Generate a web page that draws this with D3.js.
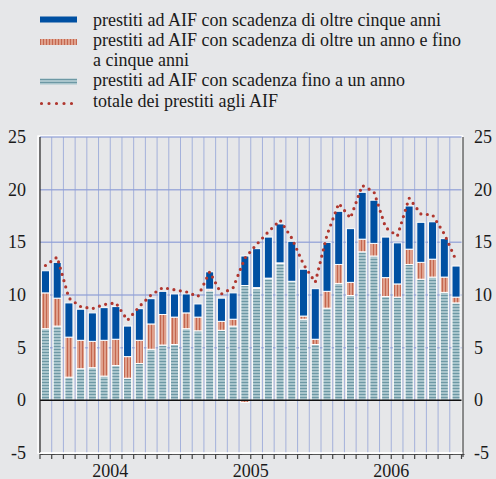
<!DOCTYPE html>
<html>
<head>
<meta charset="utf-8">
<script src="https://cdn.jsdelivr.net/npm/d3@7"></script>
<style>
  body { margin: 0; background: #e6e7e9; }
  svg { display: block; }
  text { font-family: "Liberation Serif", "Times New Roman", serif; fill: #1a1a1a; }
</style>
</head>
<body>
<script>
// monthly data, Jan 2004 - Dec 2006
let years = ["2004", "2005", "2006"];
let shortTerm = [6.8, 7.05, 2.2, 3.0, 3.1, 2.3, 3.3, 2.1, 3.5, 4.85, 5.25, 5.3,
                 6.8, 6.6, 10.4, 6.65, 7.05, 10.9, 10.6, 11.55, 13.0, 11.3, 7.7, 5.3,
                 8.75, 11.1, 9.95, 14.1, 13.7, 9.85, 9.8, 12.9, 11.5, 11.7, 10.25, 9.25];
let midTerm = [3.4, 2.65, 3.8, 2.7, 2.5, 3.4, 2.5, 2.05, 2.2, 2.4, 2.9, 2.6,
               1.5, 1.3, 0.15, 0.85, 0.65, -0.2, 0.1, 0.05, 0.05, -0.05, 0.3, 0.5,
               1.6, 1.8, 1.25, 1.2, 1.2, 1.8, 1.25, 1.45, 1.6, 1.7, 1.45, 0.55];
let longTerm = [2.1, 3.4, 3.25, 2.95, 2.7, 3.1, 3.1, 2.9, 3.0, 2.4, 2.2, 2.2,
                1.8, 1.25, 1.65, 2.2, 2.5, 2.8, 3.7, 3.9, 3.7, 3.8, 4.45, 4.8,
                4.65, 5.05, 5.1, 4.45, 4.1, 3.85, 3.9, 4.1, 3.8, 3.55, 3.65, 2.95];
let total = [12.8, 13.6, 9.7, 8.9, 8.7, 9.1, 9.25, 7.6, 8.9, 10.0, 10.7, 10.5,
             10.3, 9.85, 12.2, 10.1, 10.7, 13.5, 14.8, 16.0, 17.1, 15.4, 12.9, 11.2,
             15.7, 18.7, 17.3, 20.4, 19.8, 16.4, 15.6, 19.2, 17.7, 17.6, 15.8, 13.3];
let yTicks = [-5, 0, 5, 10, 15, 20, 25];
let legendLabels = [
  ["prestiti ad AIF con scadenza di oltre cinque anni"],
  ["prestiti ad AIF con scadenza di oltre un anno e fino", "a cinque anni"],
  ["prestiti ad AIF con scadenza fino a un anno"],
  ["totale dei prestiti agli AIF"]
];

let width = 496;
let height = 479;
let plotLeft = 40, plotRight = 461.5, plotTop = 137, plotBottom = 453;
let fontSize = 18;

let svg = d3.select("body").append("svg")
            .attr("width", width)
            .attr("height", height);

let defs = svg.append("defs");
let redPat = defs.append("pattern").attr("id", "redStripe")
  .attr("patternUnits", "userSpaceOnUse").attr("width", 3).attr("height", 3);
redPat.append("rect").attr("width", 3).attr("height", 3).attr("fill", "#dfa08c");
redPat.append("rect").attr("x", 1).attr("width", 1).attr("height", 3).attr("fill", "#c4674f");

let tealPat = defs.append("pattern").attr("id", "tealStripe")
  .attr("patternUnits", "userSpaceOnUse").attr("width", 3).attr("height", 3);
tealPat.append("rect").attr("width", 3).attr("height", 3).attr("fill", "#a9c5cc");
tealPat.append("rect").attr("y", 1).attr("width", 3).attr("height", 1).attr("fill", "#6d98a4");

let months = d3.range(shortTerm.length);
let x = d3.scaleBand().domain(months).range([plotLeft, plotRight]).paddingInner(0.31).paddingOuter(0.12);
let xStep = (plotRight - plotLeft) / months.length;
let y = d3.scaleLinear().domain([-5, 25]).range([plotBottom, plotTop]);

// frame
svg.append("rect").attr("x", plotLeft - 2).attr("y", plotTop - 1)
   .attr("width", plotRight - plotLeft + 3).attr("height", plotBottom - plotTop + 1)
   .attr("fill", "none").attr("stroke", "#ffffff").attr("stroke-width", 1.5);

// grid
svg.append("g").selectAll("line").data(d3.range(1, months.length)).join("line")
   .attr("x1", d => plotLeft + d * xStep).attr("x2", d => plotLeft + d * xStep)
   .attr("y1", plotTop).attr("y2", plotBottom)
   .attr("stroke", "#8e9fd6").attr("stroke-opacity", 0.75).attr("stroke-width", 1);
svg.append("g").selectAll("line").data(yTicks.filter(d => d > 0)).join("line")
   .attr("x1", plotLeft).attr("x2", plotRight)
   .attr("y1", d => y(d)).attr("y2", d => y(d))
   .attr("stroke", "#8e9fd6").attr("stroke-opacity", 0.8).attr("stroke-width", 1.5);

// stacked bars
let table = months.map(i => ({ short: shortTerm[i], mid: midTerm[i], long: longTerm[i] }));
let stack = d3.stack().keys(["short", "mid", "long"]).offset(d3.stackOffsetDiverging);
let fills = { short: "url(#tealStripe)", mid: "url(#redStripe)", long: "#0050a2" };

svg.append("g").selectAll("g").data(stack(table)).join("g")
   .attr("fill", d => fills[d.key])
   .selectAll("rect").data(d => d).join("rect")
   .attr("x", (d, i) => x(i))
   .attr("width", x.bandwidth())
   .attr("y", d => y(Math.max(d[0], d[1])))
   .attr("height", d => Math.abs(y(d[0]) - y(d[1])))
   .attr("stroke", "#ffffff").attr("stroke-width", 1);

// zero line
svg.append("line").attr("x1", plotLeft).attr("x2", plotRight)
   .attr("y1", y(0)).attr("y2", y(0))
   .attr("stroke", "#111").attr("stroke-width", 1.5);

// left and right borders
svg.append("line").attr("x1", plotLeft).attr("x2", plotLeft)
   .attr("y1", plotTop).attr("y2", plotBottom).attr("stroke", "#222").attr("stroke-width", 1.2);
svg.append("line").attr("x1", plotRight + 1.5).attr("x2", plotRight + 1.5)
   .attr("y1", plotTop).attr("y2", plotBottom + 4).attr("stroke", "#666").attr("stroke-width", 1.5);

// bottom axis with month ticks
let axisG = svg.append("g");
axisG.append("line").attr("x1", plotLeft).attr("x2", plotRight + 1)
     .attr("y1", plotBottom + 1.5).attr("y2", plotBottom + 1.5)
     .attr("stroke", "#555").attr("stroke-width", 1);
axisG.append("line").attr("x1", plotLeft).attr("x2", plotRight + 1)
     .attr("y1", plotBottom).attr("y2", plotBottom)
     .attr("stroke", "#ffffff").attr("stroke-width", 1.5);
axisG.selectAll("path.tick").data(d3.range(0, months.length + 1)).join("path")
     .attr("class", "tick")
     .attr("d", d => {
        let tx = plotLeft + d * xStep;
        return "M" + tx + "," + (plotBottom + 6) + "V" + (plotBottom + 1.5) + "h3";
     })
     .attr("fill", "none").attr("stroke", "#444").attr("stroke-width", 1.2);

axisG.selectAll("text.year").data(years).join("text")
     .attr("class", "year")
     .attr("x", (d, i) => plotLeft + (i * 12 + 6) * xStep)
     .attr("y", 476.5)
     .attr("text-anchor", "middle")
     .attr("font-size", fontSize)
     .text(d => d);

// y labels both sides
svg.append("g").selectAll("text").data(yTicks).join("text")
   .attr("x", 26).attr("y", d => y(d) + 6)
   .attr("text-anchor", "end").attr("font-size", fontSize)
   .text(d => d);
svg.append("g").selectAll("text").data(yTicks).join("text")
   .attr("x", 474).attr("y", d => y(d) + 6)
   .attr("text-anchor", "start").attr("font-size", fontSize)
   .text(d => d);

// total line (dotted)
let line = d3.line().x((d, i) => x(i) + x.bandwidth() / 2).y(d => y(d));
svg.append("path").datum(total)
   .attr("d", line)
   .attr("fill", "none")
   .attr("stroke", "#b0372f")
   .attr("stroke-width", 3.2)
   .attr("stroke-linecap", "round")
   .attr("stroke-dasharray", "0 6.5");

// legend
let legend = svg.append("g");
let legendRows = [19.5, 42, 81.5, 103.5];
legend.append("rect").attr("x", 40).attr("y", legendRows[0] - 3).attr("width", 37).attr("height", 6)
      .attr("fill", "#0050a2");
legend.append("rect").attr("x", 40).attr("y", legendRows[1] - 3).attr("width", 37).attr("height", 6)
      .attr("fill", "url(#redStripe)");
legend.append("rect").attr("x", 40).attr("y", legendRows[2] - 3).attr("width", 37).attr("height", 6)
      .attr("fill", "url(#tealStripe)");
legend.append("line").attr("x1", 41.5).attr("x2", 72).attr("y1", legendRows[3]).attr("y2", legendRows[3])
      .attr("stroke", "#b0372f").attr("stroke-width", 3.2)
      .attr("stroke-linecap", "round").attr("stroke-dasharray", "0 7.5");

let textRows = [25.5, 46, 65.5, 85.5, 107];
let row = 0;
legendLabels.forEach(lines => {
  lines.forEach(t => {
    legend.append("text").attr("x", 93).attr("y", textRows[row]).attr("font-size", fontSize).text(t);
    row++;
  });
});
</script>
</body>
</html>
